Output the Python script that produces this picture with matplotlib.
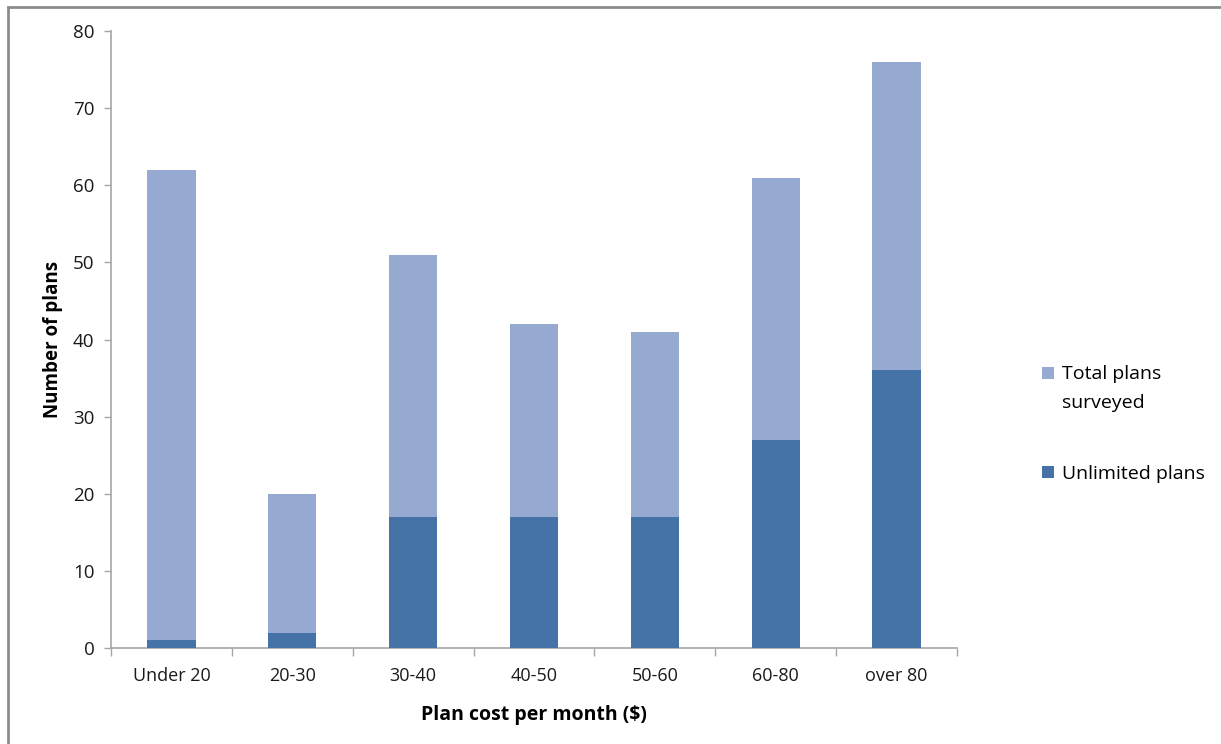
import numpy as np
import matplotlib
matplotlib.use('Agg')
import matplotlib.pyplot as plt
from matplotlib.patches import Rectangle

# data
categories = ['Under 20', '20-30', '30-40', '40-50', '50-60', '60-80', 'over 80']
total_plans = [62, 20, 51, 42, 41, 61, 76]
unlimited_plans = [1, 2, 17, 17, 17, 27, 36]

plt.rcParams['font.family'] = ['Open Sans', 'DejaVu Sans']

light_blue = '#95a9d1'
dark_blue = '#4573a8'
axis_grey = '#a6a6a6'

fig = plt.figure(figsize=(12.21, 7.44), dpi=100)
ax = fig.add_axes([0.0909, 0.129, 0.6929, 0.8293])

x = np.arange(len(categories))
ax.bar(x, total_plans, width=0.4, color=light_blue, label='Total plans\nsurveyed', zorder=2)
ax.bar(x, unlimited_plans, width=0.4, color=dark_blue, label='Unlimited plans', zorder=3)

ax.set_xlim(-0.5, len(categories) - 0.5)
ax.set_ylim(0, 80)
ax.set_yticks(np.arange(0, 81, 10))

# category labels centred, tick marks between categories
ax.set_xticks(x)
ax.set_xticklabels(categories, fontsize=13, color='#1a1a1a')
ax.tick_params(axis='x', which='major', length=0, pad=14)
ax.set_xticks(np.arange(-0.5, len(categories), 1.0), minor=True)
ax.tick_params(axis='x', which='minor', length=6, color=axis_grey, width=1)
ax.tick_params(axis='y', length=5, color=axis_grey, width=1, labelsize=13.5, labelcolor='#1a1a1a', pad=7)

for side in ['top', 'right']:
    ax.spines[side].set_visible(False)
for side in ['left', 'bottom']:
    ax.spines[side].set_color(axis_grey)
    ax.spines[side].set_linewidth(1.2)

ax.set_xlabel('Plan cost per month ($)', fontsize=14, fontweight='bold', labelpad=14)
ax.set_ylabel('Number of plans', fontsize=13.5, fontweight='bold', labelpad=7)

handles, labels = ax.get_legend_handles_labels()
leg = fig.legend(handles, labels, loc='center left', bbox_to_anchor=(0.839, 0.43),
                 frameon=False, fontsize=14, handlelength=0.6, handleheight=0.6,
                 handletextpad=0.45, labelspacing=2.75)
for t in leg.get_texts():
    t.set_linespacing(1.75)
# Excel puts the swatch next to the first line of a wrapped label
first = leg.legend_handles[0]
first.set_y(first.get_y() + 11)

# outer chart border, runs off the right and bottom edges like the screenshot
fig.patches.append(Rectangle((8 / 1221, -0.05), 1.1, 1 - 7 / 744 + 0.05,
                             transform=fig.transFigure, fill=False,
                             edgecolor='#8c8c8c', linewidth=2))

fig.savefig('out.png', dpi=100)
